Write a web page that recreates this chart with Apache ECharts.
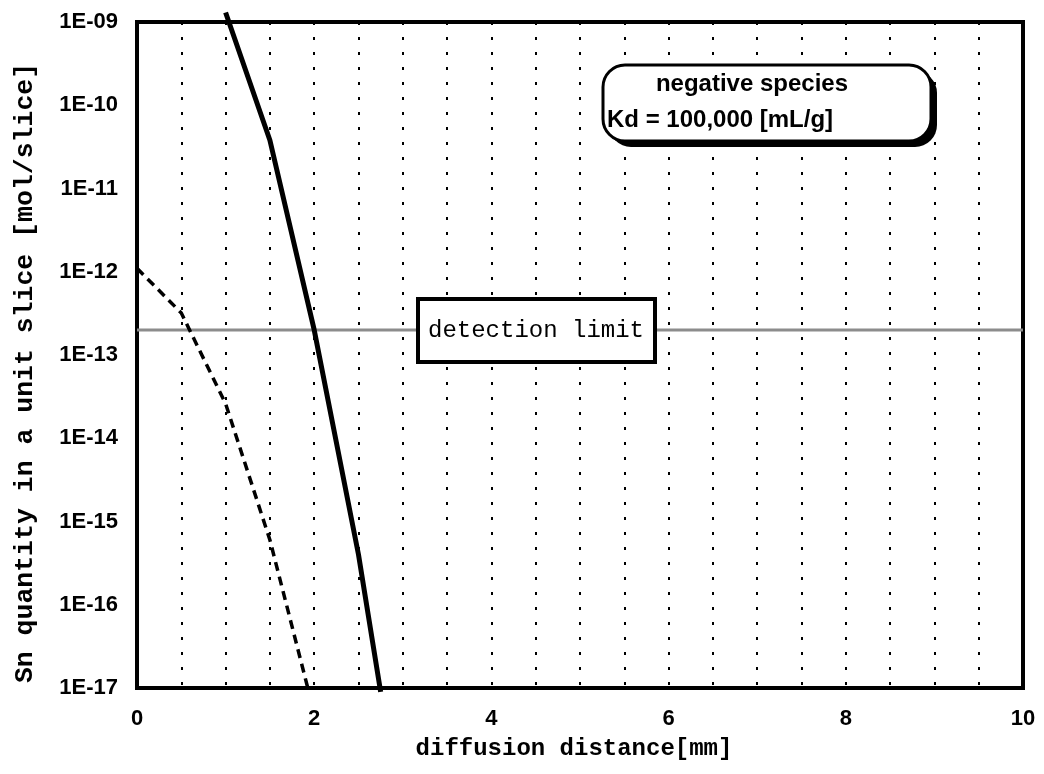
<!DOCTYPE html>
<html>
<head>
<meta charset="utf-8">
<script src="https://cdn.jsdelivr.net/npm/echarts@6/dist/echarts.min.js"></script>
<style>
  html, body { margin: 0; padding: 0; background: #fff; }
  #chart { width: 1044px; height: 774px; }
</style>
</head>
<body>
<div id="chart"></div>
<script>
// Sn quantity per slice versus diffusion distance (negative species, Kd = 100,000 mL/g)
const solidDistance = [1.0, 1.5, 2.0, 2.5, 2.75];
const solidQuantity = [1.3e-9, 3.8e-11, 2.0e-13, 4.0e-16, 9.0e-18];

const dashedDistance = [0, 0.5, 1.0, 1.5, 2.0];
const dashedQuantity = [1.1e-12, 3.2e-13, 2.6e-14, 6.0e-16, 5.0e-18];

const detectionLimit = 2.0e-13;
const xRange = [0, 10];
const yRange = [1e-17, 1e-9];
const xTickLabels = ['0', '2', '4', '6', '8', '10'];

const toPairs = (xs, ys) => xs.map((x, i) => [x, ys[i]]);

const chart = echarts.init(document.getElementById('chart'), null, { renderer: 'canvas' });

const monoFont = '"Liberation Mono", "DejaVu Sans Mono", monospace';
const sansFont = '"Liberation Sans", Arial, sans-serif';

chart.setOption({
  backgroundColor: '#ffffff',
  animation: false,
  grid: {
    left: 137, right: 21, top: 22, bottom: 86,
    show: true, borderColor: '#000', borderWidth: 4, backgroundColor: 'transparent'
  },
  xAxis: {
    type: 'value',
    min: xRange[0], max: xRange[1], interval: 0.5,
    axisLine: { show: false },
    axisTick: { show: false },
    axisLabel: {
      margin: 20,
      fontFamily: sansFont, fontWeight: 'bold', fontSize: 22, color: '#000',
      formatter: v => {
        const s = String(v);
        return xTickLabels.includes(s) ? s : '';
      }
    },
    splitLine: {
      show: true,
      lineStyle: { color: '#000', width: 2, type: [3, 12] }
    }
  },
  yAxis: {
    type: 'log',
    logBase: 10,
    min: yRange[0], max: yRange[1], interval: 1,
    axisLine: { show: false },
    axisTick: { show: false },
    splitLine: { show: false },
    axisLabel: {
      margin: 19,
      fontFamily: sansFont, fontWeight: 'bold', fontSize: 22, color: '#000',
      formatter: v => {
        const e = Math.round(Math.log10(v));
        return '1E-' + String(-e).padStart(2, '0');
      }
    }
  },
  series: [
    {
      name: 'detection limit',
      type: 'line',
      data: [[xRange[0], detectionLimit], [xRange[1], detectionLimit]],
      symbol: 'none',
      lineStyle: { color: '#8c8c8c', width: 3 },
      z: 3
    },
    {
      name: 'profile (dashed)',
      type: 'line',
      data: toPairs(dashedDistance, dashedQuantity),
      symbol: 'none',
      clip: true,
      lineStyle: { color: '#000', width: 3.5, type: [9, 6] },
      z: 4
    },
    {
      name: 'profile (solid)',
      type: 'line',
      data: toPairs(solidDistance, solidQuantity),
      symbol: 'none',
      clip: false,
      lineStyle: { color: '#000', width: 5 },
      z: 5
    }
  ],
  graphic: [
    // axis titles
    {
      type: 'text', z: 100,
      x: 574, y: 749,
      style: {
        text: 'diffusion distance[mm]',
        font: 'bold 24px ' + monoFont,
        fill: '#000', align: 'center', verticalAlign: 'middle'
      }
    },
    {
      type: 'text', z: 100,
      x: 25, y: 373,
      rotation: Math.PI / 2,
      style: {
        text: 'Sn quantity in a unit slice [mol/slice]',
        font: 'bold 26.5px ' + monoFont,
        fill: '#000', align: 'center', verticalAlign: 'middle'
      }
    },
    // detection limit label
    {
      type: 'rect', z: 100,
      shape: { x: 418, y: 299, width: 237, height: 63 },
      style: { fill: '#fff', stroke: '#000', lineWidth: 4 }
    },
    {
      type: 'text', z: 101,
      x: 536, y: 331,
      style: {
        text: 'detection limit',
        font: '24px ' + monoFont,
        fill: '#000', align: 'center', verticalAlign: 'middle'
      }
    },
    // species / Kd note with drop shadow
    {
      type: 'rect', z: 100,
      shape: { x: 609, y: 71, width: 328, height: 76, r: 22 },
      style: { fill: '#000' }
    },
    {
      type: 'rect', z: 101,
      shape: { x: 603, y: 65, width: 328, height: 76, r: 22 },
      style: { fill: '#fff', stroke: '#000', lineWidth: 3 }
    },
    {
      type: 'text', z: 102,
      x: 752, y: 84,
      style: {
        text: 'negative species',
        font: 'bold 24px ' + sansFont,
        fill: '#000', align: 'center', verticalAlign: 'middle'
      }
    },
    {
      type: 'text', z: 102,
      x: 607, y: 120,
      style: {
        text: 'Kd = 100,000 [mL/g]',
        font: 'bold 24px ' + sansFont,
        fill: '#000', align: 'left', verticalAlign: 'middle'
      }
    }
  ]
});
</script>
</body>
</html>
